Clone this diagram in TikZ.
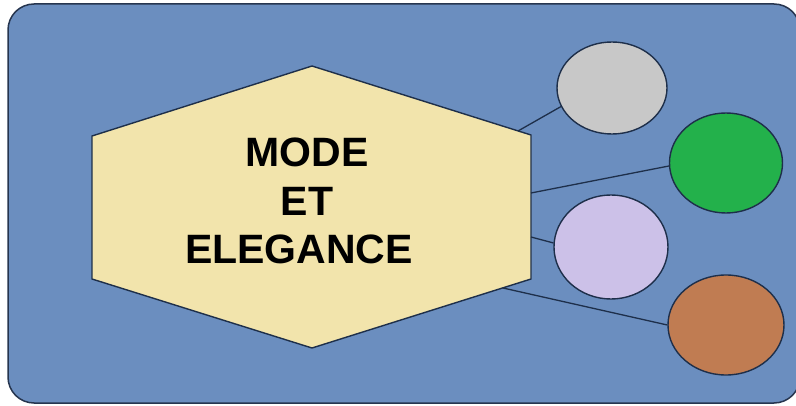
\documentclass[tikz,border=0pt]{standalone}
\usepackage{fontspec}
\setmainfont{Liberation Sans}
\usetikzlibrary{shapes.geometric}
\definecolor{panelblue}{HTML}{6B8EBF}
\definecolor{panelline}{HTML}{26354F}
\definecolor{hexfill}{HTML}{F2E4AC}
\definecolor{edgenavy}{HTML}{1E2F4A}
\definecolor{bubgray}{HTML}{C8C8C8}
\definecolor{bubgreen}{HTML}{23B14B}
\definecolor{bublilac}{HTML}{CCC1E8}
\definecolor{bubbrown}{HTML}{C07C52}
\begin{document}
\begin{tikzpicture}[x=1pt,y=-1pt,
  outline/.style={draw=edgenavy,line width=1.4pt},
  bubble/.style={ellipse,outline,inner sep=0pt},
  link/.style={draw=edgenavy,line width=1.3pt},
  title/.style={align=center,font=\fontsize{41}{48.5}\selectfont\bfseries,
    text=black,inner sep=0pt}]
  \clip (0,0) rectangle (796,406);
  % rounded blue panel, running off the right edge
  \draw[fill=panelblue,draw=panelline,line width=1.5pt,rounded corners=26pt]
    (8,4) rectangle (800,403);
  % hexagon corners
  \coordinate (ht) at (312,66);
  \coordinate (hul) at (92,136);
  \coordinate (hll) at (92,279);
  \coordinate (hb) at (312,348);
  \coordinate (hlr) at (531,279);
  \coordinate (hur) at (531,135);
  \draw[outline,fill=hexfill] (ht) -- (hul) -- (hll) -- (hb) -- (hlr) -- (hur) -- cycle;
  \node[title] (label) at (307,201) {MODE\\ET\\ELEGANCE\hspace*{16pt}};
  % satellite bubbles
  \node[bubble,fill=bubgray,minimum width=110pt,minimum height=92pt] (gray) at (612,88) {};
  \node[bubble,fill=bubgreen,minimum width=113pt,minimum height=100pt] (green) at (726,163) {};
  \node[bubble,fill=bublilac,minimum width=114pt,minimum height=104pt] (lilac) at (611,247) {};
  \node[bubble,fill=bubbrown,minimum width=116pt,minimum height=100pt] (brown) at (726,325) {};
  % where the links leave the hexagon
  \coordinate (sgray) at (518,131);
  \coordinate (sgreen) at (531,193);
  \coordinate (slilac) at (531,237);
  \coordinate (sbrown) at (503,288);
  \draw[link] (sgray) -- (gray.200);
  \draw[link] (sgreen) -- (green.183);
  \draw[link] (slilac) -- (lilac.176);
  \draw[link] (sbrown) -- (brown.west);
\end{tikzpicture}
\end{document}
